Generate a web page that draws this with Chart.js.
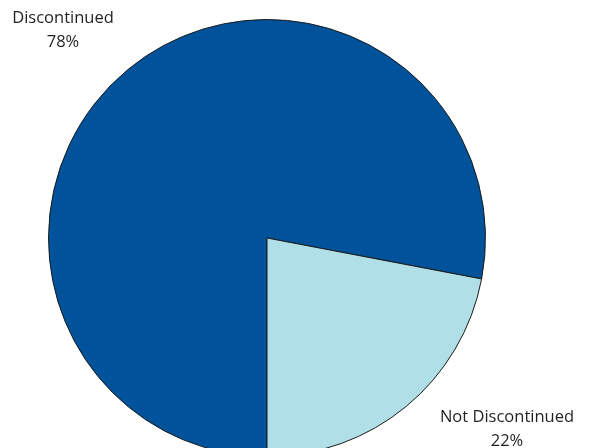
<!DOCTYPE html>
<html>
<head>
<meta charset="utf-8">
<script src="https://cdn.jsdelivr.net/npm/chart.js@4"></script>
<style>
  html, body { margin: 0; padding: 0; background: #fff; overflow: hidden; }
  #wrap { position: absolute; left: 0; top: 0; width: 591px; height: 457px; }
</style>
</head>
<body>
<div id="wrap"><canvas id="pie"></canvas></div>
<script>
const categories = ['Discontinued', 'Not Discontinued'];
const shares = [78, 22];
const sliceColors = ['#00529b', '#b0dfe7'];

// text labels beside the pie: name on the first line, share below
const labelSpots = [
    { x: 63, y: 18 },
    { x: 507, y: 417 }
];

const pieLabels = {
    id: 'pieLabels',
    afterDraw(chart) {
        const c = chart.ctx;
        c.save();
        c.font = '16.5px "Open Sans", sans-serif';
        c.fillStyle = '#231f20';
        c.textAlign = 'center';
        c.textBaseline = 'middle';
        categories.forEach((name, i) => {
            const p = labelSpots[i];
            c.fillText(name, p.x, p.y);
            c.fillText(shares[i] + '%', p.x, p.y + 24);
        });
        c.restore();
    }
};

new Chart(document.getElementById('pie').getContext('2d'), {
    type: 'pie',
    data: {
        labels: categories,
        datasets: [{
            data: shares,
            backgroundColor: sliceColors,
            borderColor: '#1a1a1a',
            borderWidth: 1
        }]
    },
    options: {
        responsive: true,
        maintainAspectRatio: false,
        animation: false,
        rotation: 180,
        layout: { padding: { top: 19, left: 48, right: 105, bottom: 0 } },
        plugins: {
            legend: { display: false },
            tooltip: { enabled: false }
        }
    },
    plugins: [pieLabels]
});
</script>
</body>
</html>
